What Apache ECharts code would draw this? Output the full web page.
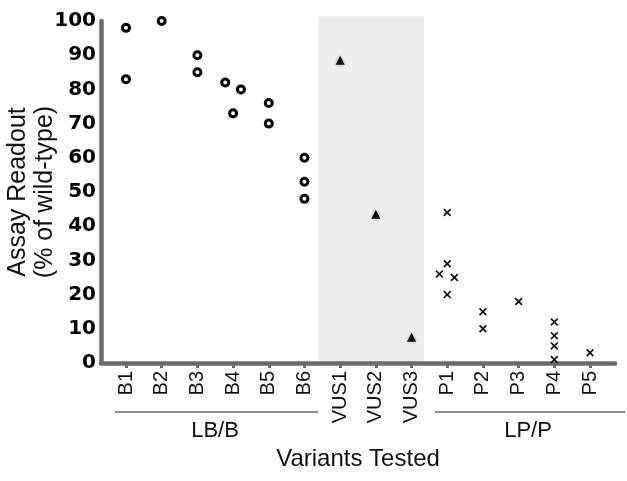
<!DOCTYPE html>
<html>
<head>
<meta charset="utf-8">
<script src="https://cdn.jsdelivr.net/npm/echarts@6/dist/echarts.min.js"></script>
<style>
  html, body { margin: 0; padding: 0; background: #fff; }
  #main { width: 627px; height: 481px; }
</style>
</head>
<body>
<div id="main"></div>
<script>
// variant categories along the x axis (position 1..14)
const categories = ['B1', 'B2', 'B3', 'B4', 'B5', 'B6', 'VUS1', 'VUS2', 'VUS3', 'P1', 'P2', 'P3', 'P4', 'P5'];
const tickPositions = [1, 2, 3, 4, 5, 6, 7, 8, 9, 10, 11, 12, 13, 14];

// LB/B variants (open circles) - x position incl. small jitter, readout value
const benignPos = [1, 1, 2, 3, 3, 3.78, 4.22, 4, 5, 5, 6, 6, 6];
const benignVal = [98, 83, 100, 90, 85, 82, 80, 73, 76, 70, 60, 53, 48];

// VUS (triangles)
const vusPos = [7, 8, 9];
const vusVal = [88.5, 43.5, 7.5];

// LP/P variants (crosses)
const pathoPos = [10, 10, 9.78, 10.2, 10, 11, 11, 12, 13, 13, 13, 13, 14];
const pathoVal = [44, 29, 26, 25, 20, 15, 10, 18, 12, 8, 5, 1, 3];

// shaded VUS band (x range, y range)
const vusBandX = [6.38, 9.35];
const vusBandY = [0, 101.4];

const axisGray = '#6b6b6b';
const sans = '"Liberation Sans", Arial, sans-serif';

function zip(xs, ys) {
    return xs.map(function (x, i) { return [x, ys[i]]; });
}

const crossPath = 'path://M0,1.5L1.5,0L5,3.5L8.5,0L10,1.5L6.5,5L10,8.5L8.5,10L5,6.5L1.5,10L0,8.5L3.5,5Z';

const chart = echarts.init(document.getElementById('main'));

const option = {
    animation: false,
    backgroundColor: '#fff',
    grid: {
        left: 101,
        right: 12,
        top: 21,
        bottom: 118,
        outerBoundsMode: 'none'
    },
    xAxis: {
        type: 'value',
        min: 0.3,
        max: 14.7,
        splitLine: { show: false },
        axisLine: { show: true, lineStyle: { color: axisGray, width: 4.5 } },
        axisTick: {
            show: true,
            customValues: tickPositions,
            length: 5,
            lineStyle: { color: axisGray, width: 3 }
        },
        axisLabel: {
            customValues: tickPositions,
            rotate: 90,
            margin: 8,
            fontSize: 20,
            fontFamily: sans,
            color: '#111',
            formatter: function (v) { return categories[Math.round(v) - 1]; }
        },
        name: 'Variants Tested',
        nameLocation: 'middle',
        nameGap: 84,
        nameMoveOverlap: false,
        nameTextStyle: { fontSize: 24, fontFamily: sans, color: '#111' }
    },
    yAxis: {
        type: 'value',
        min: 0,
        max: 100,
        interval: 10,
        splitLine: { show: false },
        axisLine: { show: true, lineStyle: { color: axisGray, width: 4.5 } },
        axisTick: { show: false },
        axisLabel: {
            margin: 5,
            fontSize: 20,
            fontWeight: 'bold',
            fontFamily: '"DejaVu Sans", sans-serif',
            color: '#000'
        },
        name: 'Assay Readout\n(% of wild-type)',
        nameLocation: 'middle',
        nameGap: 42,
        nameMoveOverlap: false,
        nameTextStyle: { fontSize: 25, lineHeight: 27, fontFamily: sans, color: '#111' }
    },
    series: [
        {
            name: 'LB/B',
            type: 'scatter',
            data: zip(benignPos, benignVal),
            symbol: 'circle',
            symbolSize: 7,
            itemStyle: { color: '#fff', borderColor: '#000', borderWidth: 3, opacity: 1 },
            z: 3
        },
        {
            name: 'VUS',
            type: 'scatter',
            data: zip(vusPos, vusVal),
            symbol: 'triangle',
            symbolSize: 9,
            itemStyle: { color: '#111', shadowBlur: 3, shadowColor: 'rgba(0,0,0,0.35)', opacity: 1 },
            z: 3
        },
        {
            name: 'LP/P',
            type: 'scatter',
            data: zip(pathoPos, pathoVal),
            symbol: crossPath,
            symbolSize: 8,
            itemStyle: { color: '#111', opacity: 1 },
            z: 3
        }
    ]
};

chart.setOption(option);

// shaded band and group brackets, placed through the axis scales
const bl = chart.convertToPixel({ gridIndex: 0 }, [vusBandX[0], vusBandY[0]]);
const tr = chart.convertToPixel({ gridIndex: 0 }, [vusBandX[1], vusBandY[1]]);

chart.setOption({
    graphic: [
        {
            type: 'rect', z: -1, silent: true,
            shape: { x: bl[0], y: tr[1], width: tr[0] - bl[0], height: bl[1] - tr[1] },
            style: { fill: '#eeeeee' }
        },
        { type: 'line', shape: { x1: 115, y1: 412, x2: bl[0], y2: 412 }, style: { stroke: '#666', lineWidth: 1.5 } },
        { type: 'line', shape: { x1: 435, y1: 412, x2: 625, y2: 412 }, style: { stroke: '#666', lineWidth: 1.5 } },
        { type: 'text', x: 215, y: 431, style: { text: 'LB/B', fontSize: 22, fontFamily: sans, fill: '#111', align: 'center', verticalAlign: 'middle' } },
        { type: 'text', x: 528, y: 431, style: { text: 'LP/P', fontSize: 22, fontFamily: sans, fill: '#111', align: 'center', verticalAlign: 'middle' } }
    ]
});
</script>
</body>
</html>
